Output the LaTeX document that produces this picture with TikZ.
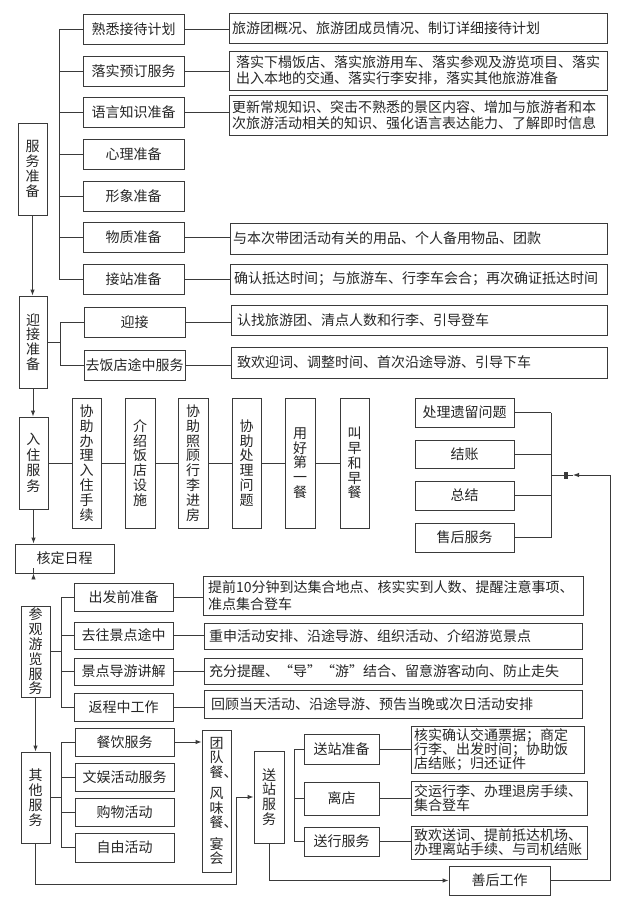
\documentclass[tikz,border=0pt]{standalone}
\usepackage{fontspec}
\setmainfont{Noto Sans CJK SC}
\usetikzlibrary{arrows.meta}
\definecolor{lc}{HTML}{3A3A3A}
\definecolor{tc}{HTML}{262626}
\newcommand\mybox[7][]{%
  \pgfmathsetmacro\bw{#5-#3}\pgfmathsetmacro\bh{#6-#4}%
  \pgfmathsetmacro\bcx{(#3+#5)/2}\pgfmathsetmacro\bcy{(#4+#6)/2}%
  \node[bx,minimum width=\bw pt,minimum height=\bh pt,#1] (#2) at (\bcx,\bcy) {#7};}
\newcommand\myrbox[8][]{%
  \pgfmathsetmacro\bw{#6-#4}\pgfmathsetmacro\bh{#7-#5}%
  \pgfmathsetmacro\btw{#6-#4-2*#2}%
  \pgfmathsetmacro\bcx{(#4+#6)/2}\pgfmathsetmacro\bcy{(#5+#7)/2}%
  \node[bx,align=left,minimum width=\bw pt,minimum height=\bh pt,text width=\btw pt,inner xsep=#2 pt,#1] (#3) at (\bcx,\bcy) {#8};}
\begin{document}
\begin{tikzpicture}[x=1pt,y=-1pt,
  bx/.style={draw=lc,line width=0.9pt,inner sep=0pt,align=center,text=tc,font=\fontsize{14}{15}\selectfont},
  vt/.style={font=\fontsize{14}{14.8}\selectfont},
  tb/.style={font=\fontsize{14}{16.5}\selectfont},
  tc3/.style={font=\fontsize{14}{14.3}\selectfont},
  ln/.style={draw=lc,line width=0.9pt},
  ar/.style={ln,-{Latex[length=6pt,width=4.5pt]}}]
\useasboundingbox[fill=white] (0,0) rectangle (622,903);

% ---------- 服务准备 ----------
\mybox[vt]{fw}{18}{123}{47}{215}{服\\务\\准\\备}
\mybox{l1}{83}{14}{184}{44}{熟悉接待计划}
\mybox{l2}{83}{56}{184}{86}{落实预订服务}
\mybox{l3}{83}{97}{184}{127}{语言知识准备}
\mybox{l4}{83}{139}{184}{169}{心理准备}
\mybox{l5}{83}{181}{184}{211}{形象准备}
\mybox{l6}{83}{222}{184}{252}{物质准备}
\mybox{l7}{83}{264}{184}{294}{接站准备}
\myrbox[tb]{3}{r1}{229}{13}{607}{43}{旅游团概况、旅游团成员情况、制订详细接待计划}
\myrbox[tb]{7}{r2}{229}{51}{607}{90}{落实下榻饭店、落实旅游用车、落实参观及游览项目、落实\\出入本地的交通、落实行李安排，落实其他旅游准备}
\myrbox[tb]{3}{r3}{229}{95}{607}{135}{更新常规知识、突击不熟悉的景区内容、增加与旅游者和本\\次旅游活动相关的知识、强化语言表达能力、了解即时信息}
\myrbox[tb]{3}{r6}{230}{223}{607}{254}{与本次带团活动有关的用品、个人备用物品、团款}
\myrbox[tb]{4}{r7}{230}{264}{607}{294}{确认抵达时间；与旅游车、行李车会合；再次确证抵达时间}
\coordinate (b1) at (59,0);
\draw[ln] (b1 |- l1.west) -- (b1 |- l7.west);
\foreach \k in {l1,l2,l3,l4,l5,l6,l7} \draw[ln] (b1 |- \k.west) -- (\k.west);
\foreach \a/\b in {l1/r1,l2/r2,l3/r3,l6/r6,l7/r7} \draw[ln] (\a.east) -- (\a.east -| \b.west);

% ---------- 迎接准备 ----------
\mybox[vt]{yj}{19}{296}{47}{388}{迎\\接\\准\\备}
\mybox{m1}{84}{307}{185}{337}{迎接}
\mybox{m2}{84}{350}{185}{380}{去饭店途中服务}
\myrbox[tb]{6}{rm1}{231}{305}{607}{335}{认找旅游团、清点人数和行李、引导登车}
\myrbox[tb]{6}{rm2}{231}{347}{607}{378}{致欢迎词、调整时间、首次沿途导游、引导下车}
\coordinate (b2) at (60,0);
\draw[ln] (b2 |- m1.west) -- (b2 |- m2.west);
\draw[ln] (yj.east) -- (yj.east -| b2);
\foreach \k in {m1,m2} \draw[ln] (b2 |- \k.west) -- (\k.west);
\foreach \a/\b in {m1/rm1,m2/rm2} \draw[ln] (\a.east) -- (\a.east -| \b.west);
\draw[ar] (fw.south) -- (fw.south |- yj.north);

% ---------- 入住服务 ----------
\mybox[font=\fontsize{14}{15.5}\selectfont]{rz}{19}{417}{48}{509}{入\\住\\服\\务}
\mybox[vt]{v1}{72}{398}{101}{528}{协\\助\\办\\理\\入\\住\\手\\续}
\mybox[vt]{v2}{125}{398}{155}{528}{介\\绍\\饭\\店\\设\\施}
\mybox[vt]{v3}{178}{398}{208}{528}{协\\助\\照\\顾\\行\\李\\进\\房}
\mybox[vt]{v4}{232}{398}{261}{528}{协\\助\\处\\理\\问\\题}
\mybox[vt]{v5}{285}{398}{315}{528}{用\\好\\第\\一\\餐}
\mybox[vt]{v6}{340}{398}{369}{528}{叫\\早\\和\\早\\餐}
\draw[ln] (rz.east) -- (v1.west);
\foreach \a/\b in {v1/v2,v2/v3,v3/v4,v4/v5,v5/v6} \draw[ln] (\a.east) -- (\b.west);
\draw[ar] (yj.south) -- (yj.south |- rz.north);

% ---------- 右侧 ----------
\mybox{c1}{415}{398}{514}{427}{处理遗留问题}
\mybox{c2}{415}{440}{514}{468}{结账}
\mybox{c3}{415}{481}{514}{510}{总结}
\mybox{c4}{415}{523}{514}{552}{售后服务}
\coordinate (b3) at (551,0);
\draw[ln] (b3 |- c1.east) -- (b3 |- c4.east);
\foreach \k in {c1,c2,c3,c4} \draw[ln] (\k.east) -- (\k.east -| b3);

% ---------- 核定日程 ----------
\mybox{hd}{15}{544}{114}{573}{核定日程}
\draw[ar] (rz.south) -- (rz.south |- hd.north);

% ---------- 参观游览服务 ----------
\mybox[vt]{cg}{21}{606}{50}{697}{参\\观\\游\\览\\服\\务}
\mybox{p1}{74}{583}{173}{611}{出发前准备}
\mybox{p2}{74}{622}{173}{649}{去往景点途中}
\mybox{p3}{74}{658}{173}{685}{景点导游讲解}
\mybox{p4}{74}{693}{173}{721}{返程中工作}
\myrbox[tb]{5}{rp1}{203}{576}{583}{615}{提前10分钟到达集合地点、核实实到人数、提醒注意事项、\\准点集合登车}
\myrbox[tb]{5}{rp2}{204}{623}{582}{649}{重申活动安排、沿途导游、组织活动、介绍游览景点}
\myrbox[tb]{5}{rp3}{204}{658}{582}{684}{充分提醒、“导”“游”结合、留意游客动向、防止走失}
\myrbox[tb]{7}{rp4}{204}{690}{582}{718}{回顾当天活动、沿途导游、预告当晚或次日活动安排}
\coordinate (b4) at (61,0);
\draw[ln] (b4 |- p1.west) -- (b4 |- p4.west);
\draw[ln] (cg.east) -- (cg.east -| b4);
\foreach \k in {p1,p2,p3,p4} \draw[ln] (b4 |- \k.west) -- (\k.west);
\foreach \a/\b in {p1/rp1,p2/rp2,p3/rp3,p4/rp4} \draw[ln] (\a.east) -- (\a.east -| \b.west);
\draw[ar] (hd.south -| rz.south) -- (hd.south -| rz.south |- cg.north);

% ---------- 其他服务 ----------
\mybox[vt]{qt}{21}{752}{50}{843}{其\\他\\服\\务}
\mybox{o1}{75}{728}{174}{756}{餐饮服务}
\mybox{o2}{75}{763}{174}{791}{文娱活动服务}
\mybox{o3}{75}{798}{174}{826}{购物活动}
\mybox{o4}{75}{833}{174}{862}{自由活动}
\coordinate (b5) at (61,0);
\draw[ln] (b5 |- o1.west) -- (b5 |- o4.west);
\draw[ln] (qt.east) -- (qt.east -| b5);
\foreach \k in {o1,o2,o3,o4} \draw[ln] (b5 |- \k.west) -- (\k.west);
\draw[ar] (cg.south) -- (cg.south |- qt.north);

\mybox[font=\fontsize{14}{14.5}\selectfont]{td}{202}{730}{231}{872}{团\\队\\餐\rlap{、}\\[7pt]风\\味\\餐\rlap{、}\\[7pt]宴\\会}
\draw[ar] (o1.east) -- (o1.east -| td.west);

% ---------- 送站服务 ----------
\mybox[vt]{zz}{254}{751}{284}{843}{送\\站\\服\\务}
\coordinate (qturn) at (236,884);
\draw[ar] (qt.south) |- (qturn) |- (zz.west);
\mybox{z1}{304}{734}{379}{764}{送站准备}
\mybox{z2}{304}{782}{379}{815}{离店}
\mybox{z3}{304}{827}{379}{856}{送行服务}
\myrbox[tc3]{3}{rz1}{411}{726}{584}{773}{核实确认交通票据；商定\\行李、出发时间；协助饭\\店结账；归还证件}
\myrbox[tc3]{3}{rz2}{411}{781}{587}{815}{交运行李、办理退房手续、\\集合登车}
\myrbox[tc3]{3}{rz3}{411}{826}{587}{859}{致欢送词、提前抵达机场、\\办理离站手续、与司机结账}
\coordinate (b6) at (294,0);
\draw[ln] (b6 |- z1.west) -- (b6 |- z3.west);
\foreach \k in {z1,z2,z3} \draw[ln] (b6 |- \k.west) -- (\k.west);
\foreach \a/\b in {z1/rz1,z2/rz2,z3/rz3} \draw[ln] (\a.east) -- (\a.east -| \b.west);

% ---------- 善后工作 ----------
\mybox{sh}{449}{866}{550}{895}{善后工作}
\draw[ar] (zz.south) |- (sh.west);
\coordinate (jr) at (610,475);
\coordinate (mk) at (573,475);
\draw[ln] (sh.east) -| (jr);
\draw[ar] (jr) -- (mk);
\draw[ln] (mk) -- (b3 |- mk);
\fill[lc] ([xshift=-9pt,yshift=3.5pt]mk) rectangle ([xshift=-5pt,yshift=-3.5pt]mk);
\end{tikzpicture}
\end{document}
